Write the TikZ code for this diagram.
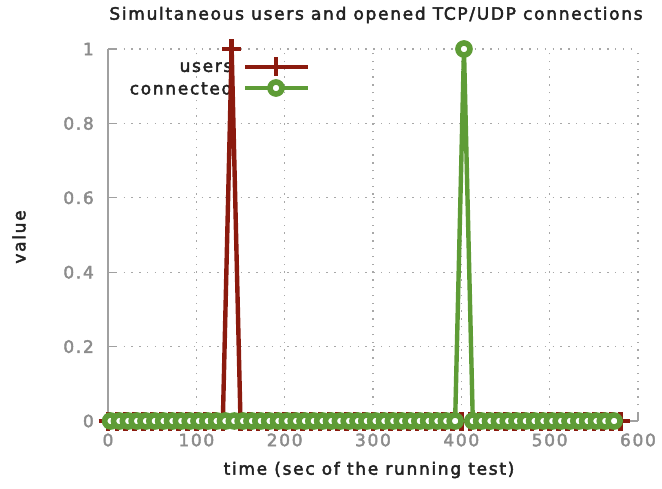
\documentclass[tikz,border=0pt]{standalone}
\usepackage{fontspec}
\newfontfamily\plotfont[LetterSpace=10,FakeBold=2.5]{DejaVu Sans}
\definecolor{userscol}{HTML}{8B1A0E}
\definecolor{conncol}{HTML}{5E9C36}
\definecolor{axiscol}{HTML}{A0A0A0}
\definecolor{gridcol}{HTML}{A8A8A8}
\definecolor{tickcol}{HTML}{8C8C8C}
\definecolor{labelcol}{HTML}{222222}
\begin{document}
\begin{tikzpicture}[x=1pt,y=-1pt,
  every node/.style={font=\plotfont\fontsize{17}{20}\selectfont, inner sep=0pt},
  labeltext/.style={text=labelcol},
  ticktext/.style={text=tickcol},
  gridline/.style={draw=gridcol, line width=1.3pt, dash pattern=on 1.4pt off 6.4pt},
  axisline/.style={draw=axiscol, line width=1.4pt},
  usersline/.style={draw=userscol, line width=4.4pt, line join=miter},
  connline/.style={draw=conncol, line width=4.4pt, line join=miter},
  usersmark/.style={draw=userscol, line width=4.4pt},
  connmark/.style={draw=conncol, line width=5.6pt, fill=white}]
\useasboundingbox (0,0) rectangle (662,489);
\fill[white] (0,0) rectangle (662,489);

% labels around the plot
\node[labeltext] (title) at (376,15) {Simultaneous users and opened TCP/UDP connections};
\node[labeltext] (xlabel) at (369,470) {time (sec of the running test)};
\node[labeltext, rotate=90] (ylabel) at (19,237) {value};

% data frame: origin at (108,421), 600 s and value 1 span the axes
\begin{scope}[shift={(108pt,-421pt)}, x=0.8833pt, y=372pt]
  % grid
  \foreach \t in {100,200,...,600} \draw[gridline] (\t,0) -- (\t,1);
  \foreach \v in {0.2,0.4,0.6,0.8,1} \draw[gridline] (0,\v) -- (600,\v);
  % axes and ticks
  \draw[axisline] (0,1) -- (0,0) -- (600,0);
  \foreach \v in {0,0.2,0.4,0.6,0.8,1} \draw[axisline] (0,\v) -- ++(9pt,0);
  \foreach \t in {0,100,...,600} \draw[axisline] (\t,0) -- ++(0,9pt);
  % tick labels
  \foreach \v/\s in {0/0,0.2/0.2,0.4/0.4,0.6/0.6,0.8/0.8,1/1}
    \node[ticktext, anchor=east] (ytick\s) at ([xshift=-14pt]0,\v) {\s};
  \foreach \t in {0,100,...,600}
    \node[ticktext] (xtick\t) at ([yshift=-19pt]\t,0) {\t};

  % legend text
  \node[labeltext, anchor=east] (keyusers) at (141,0.951) {users};
  \node[labeltext, anchor=east] (keyconn) at (141,0.895) {connected};

  % users series
  \draw[usersline] (0,0) -- (130,0) -- (140,1) -- (150,0) -- (580,0);
  \foreach \t in {0,10,...,580} {
    \pgfmathsetmacro\v{(\t==140)?1:0}
    \draw[usersmark] ([xshift=-9.5pt]\t,\v) -- ([xshift=9.5pt]\t,\v)
                     ([yshift=-9.5pt]\t,\v) -- ([yshift=9.5pt]\t,\v);
  }
  % connected series
  \draw[connline] (3,0) -- (393,0) -- (403,1) -- (413,0) -- (573,0);
  \foreach \t in {3,13,...,573} {
    \pgfmathsetmacro\v{(\t==403)?1:0}
    \draw[connmark] (\t,\v) circle[radius=6pt];
  }
\end{scope}

% legend samples
\coordinate (ua) at (245,67);
\coordinate (ub) at (308,67);
\coordinate (ca) at (245,88);
\coordinate (cb) at (308,88);
\draw[usersline] (ua) -- (ub);
\draw[usersmark] (266.5,67) -- (285.5,67) (276,57.5) -- (276,76.5);
\draw[connline] (ca) -- (cb);
\draw[connmark] (276,88) circle[radius=6pt];
\end{tikzpicture}
\end{document}
